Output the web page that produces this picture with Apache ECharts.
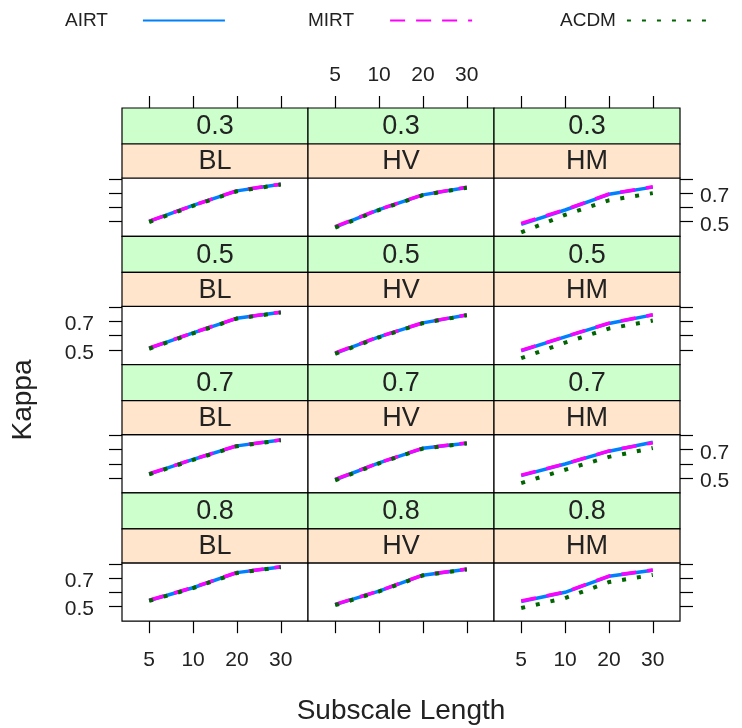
<!DOCTYPE html>
<html>
<head>
<meta charset="utf-8">
<script src="https://cdn.jsdelivr.net/npm/echarts@6/dist/echarts.min.js"></script>
<style>html,body{margin:0;padding:0;background:#fff}</style>
</head>
<body>
<div id="kappa-chart" style="width:742px;height:728px;"></div>
<script>
// subscale lengths on the x axis, kappa levels (outer strip), designs (inner strip)
const lengths = [5, 10, 20, 30];
const kappaLevels = ['0.3', '0.5', '0.7', '0.8'];
const designs = ['BL', 'HV', 'HM'];
const methods = ['AIRT', 'MIRT', 'ACDM'];
const yTicks = [0.5, 0.6, 0.7, 0.8];
const yLabels = [0.5, 0.7];

// each array: [BL, HV, HM], values at lengths 5, 10, 20, 30
const airt03 = [[0.502, 0.614, 0.716, 0.762], [0.463, 0.585, 0.688, 0.740], [0.482, 0.582, 0.692, 0.742]];
const mirt03 = [[0.504, 0.614, 0.717, 0.763], [0.466, 0.586, 0.689, 0.742], [0.488, 0.585, 0.694, 0.745]];
const acdm03 = [[0.498, 0.611, 0.713, 0.760], [0.458, 0.582, 0.686, 0.738], [0.425, 0.548, 0.650, 0.700]];

const airt05 = [[0.512, 0.620, 0.722, 0.764], [0.477, 0.592, 0.690, 0.745], [0.495, 0.592, 0.686, 0.746]];
const mirt05 = [[0.514, 0.621, 0.723, 0.765], [0.480, 0.593, 0.691, 0.746], [0.498, 0.594, 0.688, 0.747]];
const acdm05 = [[0.509, 0.617, 0.720, 0.762], [0.473, 0.589, 0.688, 0.743], [0.443, 0.552, 0.650, 0.706]];

const airt07 = [[0.530, 0.632, 0.727, 0.768], [0.490, 0.608, 0.710, 0.746], [0.519, 0.600, 0.690, 0.752]];
const mirt07 = [[0.532, 0.633, 0.728, 0.769], [0.493, 0.609, 0.711, 0.748], [0.522, 0.602, 0.692, 0.748]];
const acdm07 = [[0.527, 0.629, 0.725, 0.766], [0.486, 0.605, 0.708, 0.744], [0.467, 0.560, 0.650, 0.712]];

const airt08 = [[0.543, 0.632, 0.738, 0.778], [0.514, 0.608, 0.720, 0.762], [0.536, 0.600, 0.712, 0.755]];
const mirt08 = [[0.545, 0.634, 0.739, 0.779], [0.516, 0.610, 0.721, 0.763], [0.540, 0.602, 0.714, 0.756]];
const acdm08 = [[0.540, 0.630, 0.735, 0.776], [0.510, 0.606, 0.718, 0.760], [0.490, 0.560, 0.672, 0.722]];

const airt = [airt03, airt05, airt07, airt08];
const mirt = [mirt03, mirt05, mirt07, mirt08];
const acdm = [acdm03, acdm05, acdm07, acdm08];

// layout of the lattice
const FONT = '"Liberation Sans", Arial, sans-serif';
const left0 = 122, colW = 186;
const top0 = 108, rowH = 128.3, greenH = 36, orangeH = 34, panelH = 58.3;

const lineStyles = {
  AIRT: { color: '#0080ff', width: 3.5, type: 'solid' },
  MIRT: { color: '#ff00ff', width: 3.5, type: [15, 11] },
  ACDM: { color: '#006400', width: 4, type: [4, 11] }
};

const grids = [], xAxes = [], yAxes = [], series = [], graphics = [];
const tickStyle = { color: '#000', width: 1.2 };
const labelStyle = { fontSize: 21, color: '#222', fontFamily: FONT };

kappaLevels.forEach((lev, r) => {
  designs.forEach((des, c) => {
    const g = grids.length;
    const x = left0 + c * colW;
    const yStrip = top0 + r * rowH;
    grids.push({
      left: x, top: yStrip + greenH + orangeH, width: colW, height: panelH,
      show: true, borderColor: '#000', borderWidth: 1.2, backgroundColor: '#fff'
    });

    // strips
    graphics.push({
      type: 'rect', shape: { x: x, y: yStrip, width: colW, height: greenH },
      style: { fill: '#ccffcc', stroke: '#000', lineWidth: 1.2 }, z: 10
    });
    graphics.push({
      type: 'rect', shape: { x: x, y: yStrip + greenH, width: colW, height: orangeH },
      style: { fill: '#ffe5cc', stroke: '#000', lineWidth: 1.2 }, z: 10
    });
    graphics.push({
      type: 'text', x: x + colW / 2, y: yStrip + greenH / 2 + 1, z: 11,
      style: { text: lev, align: 'center', verticalAlign: 'middle', font: '27px ' + FONT, fill: '#222' }
    });
    graphics.push({
      type: 'text', x: x + colW / 2, y: yStrip + greenH + orangeH / 2 + 1, z: 11,
      style: { text: des, align: 'center', verticalAlign: 'middle', font: '27px ' + FONT, fill: '#222' }
    });

    // bottom x axis
    const xi = xAxes.length;
    xAxes.push({
      type: 'value', gridIndex: g, min: -0.62, max: 3.62,
      show: r === 3,
      axisLine: { show: false, onZero: false }, splitLine: { show: false },
      axisTick: { show: true, length: 12, lineStyle: tickStyle, customValues: [0, 1, 2, 3] },
      axisLabel: {
        show: c !== 1, margin: 29, ...labelStyle,
        customValues: [0, 1, 2, 3], formatter: v => String(lengths[Math.round(v)])
      }
    });
    // top x axis on first row
    if (r === 0) {
      xAxes.push({
        type: 'value', gridIndex: g, min: -0.62, max: 3.62, position: 'top', offset: greenH + orangeH,
        axisLine: { show: false, onZero: false }, splitLine: { show: false },
        axisTick: { show: true, length: 12, lineStyle: tickStyle, customValues: [0, 1, 2, 3] },
        axisLabel: {
          show: c === 1, margin: 22, ...labelStyle,
          customValues: [0, 1, 2, 3], formatter: v => String(lengths[Math.round(v)])
        }
      });
    }

    // y axis: left on first column, right on last column
    const yi = yAxes.length;
    const labelOn = (c === 0 && r % 2 === 1) || (c === 2 && r % 2 === 0);
    yAxes.push({
      type: 'value', gridIndex: g, min: 0.398, max: 0.806,
      show: c !== 1, position: c === 2 ? 'right' : 'left',
      axisLine: { show: false, onZero: false }, splitLine: { show: false },
      axisTick: { show: true, length: 13, lineStyle: tickStyle, customValues: yTicks },
      axisLabel: {
        show: labelOn, margin: c === 0 ? 28 : 20, ...labelStyle,
        verticalAlign: 'top', lineHeight: 6,
        customValues: yLabels, formatter: v => v.toFixed(1)
      }
    });

    const sets = { AIRT: airt, MIRT: mirt, ACDM: acdm };
    methods.forEach((m, k) => {
      series.push({
        name: m, type: 'line', xAxisIndex: xi, yAxisIndex: yi,
        data: sets[m][r][c].map((v, i) => [i, v]),
        symbol: 'none', lineStyle: lineStyles[m], z: 2 + k,
        itemStyle: { color: lineStyles[m].color }
      });
    });
  });
});

// axis titles
graphics.push({
  type: 'text', x: 23, y: 400, rotation: Math.PI / 2, z: 11,
  style: { text: 'Kappa', align: 'center', verticalAlign: 'middle', font: '28px ' + FONT, fill: '#222' }
});
graphics.push({
  type: 'text', x: 401, y: 711, z: 11,
  style: { text: 'Subscale Length', align: 'center', verticalAlign: 'middle', font: '28px ' + FONT, fill: '#222' }
});

const legendBase = {
  top: 6, itemWidth: 82, itemHeight: 14, align: 'right',
  selectedMode: false, itemStyle: { opacity: 0 }
};
const legends = [
  { ...legendBase, data: ['AIRT'], left: 60, textStyle: { fontSize: 19, fontFamily: FONT, color: '#222', padding: [0, 30, 0, 0] } },
  { ...legendBase, data: ['MIRT'], left: 303, textStyle: { fontSize: 19, fontFamily: FONT, color: '#222', padding: [0, 31, 0, 0] } },
  { ...legendBase, data: ['ACDM'], left: 555, textStyle: { fontSize: 19, fontFamily: FONT, color: '#222', padding: [0, 6, 0, 0] } }
];

const chart = echarts.init(document.getElementById('kappa-chart'));
chart.setOption({
  animation: false,
  backgroundColor: '#fff',
  legend: legends,
  grid: grids,
  xAxis: xAxes,
  yAxis: yAxes,
  series: series,
  graphic: graphics
});
</script>
</body>
</html>
